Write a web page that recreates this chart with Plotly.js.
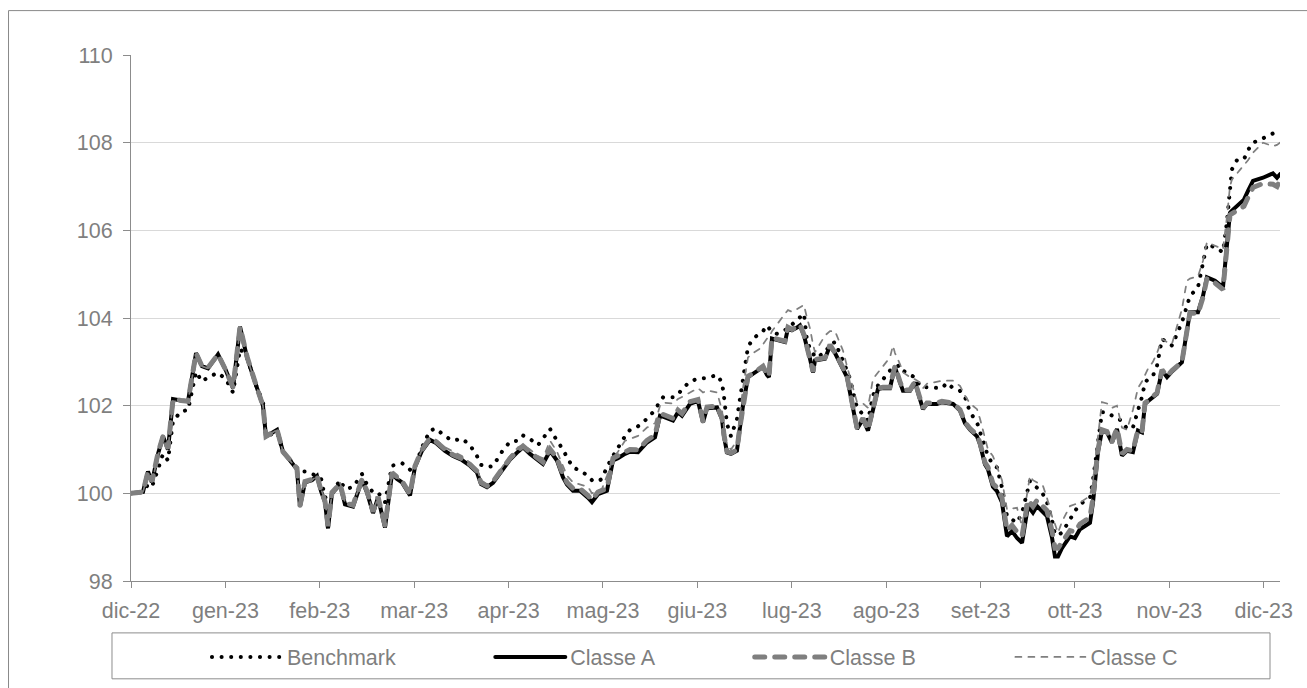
<!DOCTYPE html>
<html>
<head>
<meta charset="utf-8">
<script src="https://cdn.plot.ly/plotly-3.0.1.min.js"></script>
<style>
  html, body { margin: 0; padding: 0; background: #ffffff; }
  #chart { width: 1307px; height: 688px; }
  .js-line, .legendlines path { stroke-linecap: round; }
</style>
</head>
<body>
<div id="chart"></div>
<script>
// Position along the time axis, in months from the start (dic-22 = 0)
const months = [
  0.000, 0.127, 0.180, 0.222, 0.286, 0.339, 0.392, 0.445, 0.530, 0.604,
  0.689, 0.752, 0.816, 0.922, 1.006, 1.081, 1.155, 1.229, 1.335, 1.398,
  1.430, 1.547, 1.610, 1.758, 1.790, 1.843, 1.917, 1.970, 2.013, 2.055,
  2.087, 2.129, 2.214, 2.267, 2.352, 2.447, 2.500, 2.564, 2.617, 2.691,
  2.765, 2.818, 2.871, 2.956, 3.008, 3.083, 3.167, 3.231, 3.326, 3.411,
  3.506, 3.591, 3.665, 3.708, 3.771, 3.835, 3.930, 4.015, 4.100, 4.153,
  4.227, 4.311, 4.364, 4.439, 4.513, 4.576, 4.619, 4.682, 4.756, 4.841,
  4.883, 4.947, 4.989, 5.042, 5.106, 5.159, 5.233, 5.286, 5.371, 5.466,
  5.551, 5.604, 5.636, 5.742, 5.794, 5.837, 5.922, 6.006, 6.059, 6.102,
  6.208, 6.261, 6.282, 6.314, 6.356, 6.419, 6.451, 6.483, 6.536, 6.589,
  6.663, 6.695, 6.737, 6.758, 6.790, 6.843, 6.875, 6.928, 6.960, 7.002,
  7.055, 7.087, 7.129, 7.161, 7.193, 7.225, 7.246, 7.352, 7.405, 7.458,
  7.479, 7.542, 7.585, 7.617, 7.691, 7.754, 7.807, 7.860, 7.913, 7.966,
  8.040, 8.072, 8.093, 8.146, 8.178, 8.252, 8.305, 8.358, 8.390, 8.432,
  8.538, 8.591, 8.644, 8.708, 8.782, 8.835, 8.888, 8.962, 8.994, 9.047,
  9.078, 9.131, 9.174, 9.227, 9.280, 9.333, 9.386, 9.439, 9.502, 9.523,
  9.555, 9.597, 9.661, 9.703, 9.756, 9.788, 9.820, 9.862, 9.947, 10.000,
  10.053, 10.159, 10.191, 10.244, 10.286, 10.339, 10.392, 10.445, 10.498, 10.551,
  10.614, 10.667, 10.710, 10.742, 10.773, 10.826, 10.869, 10.922, 10.975, 11.028,
  11.133, 11.186, 11.218, 11.303, 11.356, 11.398, 11.483, 11.568, 11.610, 11.642,
  11.663, 11.716, 11.790, 11.833, 11.886, 11.992, 12.097, 12.140, 12.172
];

const benchmark = [
  100.00, 100.03, 100.20, 100.15, 100.55, 100.90, 100.75, 101.65, 101.87, 101.90,
  102.77, 102.55, 102.65, 102.75, 102.60, 102.30, 103.30, 103.10, 102.40, 102.10,
  101.30, 101.40, 100.95, 100.60, 100.50, 100.50, 100.45, 100.40, 100.35, 99.90,
  99.95, 100.00, 100.30, 100.10, 100.14, 100.44, 100.20, 100.02, 100.02, 99.80,
  100.63, 100.66, 100.69, 100.54, 100.60, 101.05, 101.43, 101.48, 101.30, 101.20,
  101.25, 101.10, 100.85, 100.65, 100.60, 100.62, 100.95, 101.18, 101.20, 101.32,
  101.24, 101.10, 101.25, 101.47, 101.20, 101.00, 100.82, 100.59, 100.52, 100.40,
  100.30, 100.27, 100.33, 100.60, 100.85, 101.05, 101.30, 101.45, 101.53, 101.70,
  101.90, 102.10, 102.19, 102.19, 102.25, 102.38, 102.55, 102.62, 102.63, 102.63,
  102.70, 102.53, 102.20, 101.58, 101.30, 101.70, 102.15, 102.60, 103.34, 103.53,
  103.64, 103.70, 103.83, 103.78, 103.68, 103.64, 103.68, 103.72, 103.76, 103.85,
  103.95, 104.00, 104.10, 103.49, 103.30, 103.20, 103.10, 103.20, 103.40, 103.45,
  103.35, 103.03, 102.80, 102.61, 101.95, 101.80, 101.65, 102.23, 102.46, 102.60,
  102.80, 102.84, 102.88, 102.92, 102.80, 102.70, 102.65, 102.45, 102.42, 102.42,
  102.40, 102.40, 102.52, 102.40, 102.34, 102.20, 101.85, 101.62, 101.40, 101.05,
  100.85, 100.65, 100.59, 100.13, 99.48, 99.40, 99.33, 99.55, 100.10, 100.28,
  100.20, 100.13, 99.98, 99.80, 99.40, 99.06, 99.05, 99.10, 99.40, 99.60,
  99.75, 99.90, 100.30, 101.20, 101.85, 101.85, 101.78, 101.70, 101.66, 101.47,
  101.50, 101.90, 102.20, 102.53, 102.60, 102.68, 102.91, 103.52, 103.45, 103.37,
  103.90, 104.28, 104.50, 104.70, 105.23, 105.69, 105.61, 105.50, 106.20, 106.90,
  107.39, 107.60, 107.62, 107.83, 108.00, 108.10, 108.21, 108.15, 108.20
];

const classeA = [
  100.00, 100.03, 100.50, 100.25, 100.90, 101.30, 101.00, 102.15, 102.12, 102.10,
  103.20, 102.90, 102.85, 103.17, 102.80, 102.40, 103.80, 103.10, 102.40, 102.00,
  101.30, 101.45, 100.95, 100.55, 99.70, 100.25, 100.30, 100.40, 100.05, 99.80,
  99.20, 100.00, 100.20, 99.75, 99.70, 100.30, 100.02, 99.55, 99.90, 99.22,
  100.45, 100.33, 100.25, 99.95, 100.60, 100.97, 101.22, 101.15, 100.97, 100.85,
  100.76, 100.63, 100.48, 100.21, 100.14, 100.24, 100.52, 100.77, 100.95, 101.05,
  100.90, 100.75, 100.67, 100.97, 100.75, 100.37, 100.20, 100.06, 100.06, 99.90,
  99.80, 99.98, 100.02, 100.06, 100.75, 100.80, 100.90, 100.95, 100.94, 101.16,
  101.28, 101.77, 101.75, 101.66, 101.85, 101.77, 102.04, 102.11, 101.62, 101.94,
  101.96, 101.69, 101.30, 100.93, 100.90, 100.97, 101.50, 102.00, 102.65, 102.72,
  102.82, 102.88, 102.70, 102.65, 103.53, 103.50, 103.49, 103.45, 103.77, 103.72,
  103.78, 103.83, 103.60, 103.35, 103.07, 102.76, 103.03, 103.07, 103.37, 103.20,
  103.11, 102.85, 102.65, 102.30, 101.47, 101.69, 101.43, 101.90, 102.38, 102.40,
  102.40, 102.70, 102.88, 102.53, 102.34, 102.34, 102.53, 102.15, 101.92, 102.04,
  102.04, 102.08, 102.06, 102.04, 101.89, 101.60, 101.45, 101.30, 101.12, 100.66,
  100.55, 100.15, 100.05, 99.79, 99.02, 99.14, 98.98, 98.87, 99.71, 99.65,
  99.56, 99.71, 99.58, 99.48, 99.00, 98.56, 98.56, 98.75, 99.02, 98.98,
  99.18, 99.33, 99.79, 100.95, 101.43, 101.39, 101.16, 101.47, 100.86, 100.97,
  100.94, 101.43, 101.39, 102.04, 102.10, 102.20, 102.27, 102.80, 102.65, 102.78,
  102.99, 103.71, 104.13, 104.13, 104.50, 104.93, 104.85, 104.70, 105.57, 106.40,
  106.45, 106.56, 106.70, 106.90, 107.13, 107.20, 107.30, 107.20, 107.28
];

const classeB = [
  100.00, 100.03, 100.50, 100.27, 100.92, 101.30, 101.02, 102.15, 102.12, 102.10,
  103.20, 102.90, 102.87, 103.17, 102.80, 102.42, 103.80, 103.12, 102.40, 102.00,
  101.30, 101.45, 100.95, 100.57, 99.72, 100.27, 100.32, 100.40, 100.07, 99.82,
  99.25, 100.02, 100.22, 99.78, 99.73, 100.32, 100.05, 99.58, 99.92, 99.26,
  100.47, 100.36, 100.28, 99.98, 100.62, 101.00, 101.25, 101.18, 101.00, 100.88,
  100.79, 100.66, 100.51, 100.24, 100.17, 100.27, 100.55, 100.80, 100.98, 101.08,
  100.94, 100.79, 100.71, 101.01, 100.80, 100.42, 100.25, 100.11, 100.11, 99.95,
  99.85, 100.03, 100.07, 100.11, 100.80, 100.85, 100.95, 101.00, 100.99, 101.21,
  101.33, 101.82, 101.80, 101.71, 101.90, 101.82, 102.09, 102.14, 101.65, 101.97,
  101.99, 101.72, 101.33, 100.95, 100.92, 100.99, 101.52, 102.02, 102.67, 102.74,
  102.84, 102.90, 102.72, 102.67, 103.55, 103.52, 103.51, 103.47, 103.79, 103.74,
  103.80, 103.85, 103.62, 103.37, 103.09, 102.78, 103.05, 103.09, 103.39, 103.22,
  103.13, 102.87, 102.67, 102.32, 101.49, 101.71, 101.45, 101.92, 102.40, 102.42,
  102.42, 102.72, 102.90, 102.55, 102.36, 102.36, 102.55, 102.17, 101.94, 102.06,
  102.06, 102.10, 102.08, 102.06, 101.91, 101.62, 101.48, 101.33, 101.15, 100.70,
  100.60, 100.22, 100.13, 99.90, 99.15, 99.27, 99.12, 99.02, 99.85, 99.78,
  99.70, 99.84, 99.71, 99.61, 99.15, 98.75, 98.75, 98.90, 99.15, 99.12,
  99.30, 99.45, 99.90, 101.00, 101.45, 101.41, 101.18, 101.49, 100.90, 101.00,
  100.97, 101.45, 101.41, 102.06, 102.12, 102.22, 102.29, 102.82, 102.67, 102.80,
  103.00, 103.70, 104.12, 104.10, 104.47, 104.90, 104.80, 104.65, 105.50, 106.35,
  106.38, 106.45, 106.55, 106.75, 106.98, 107.07, 107.05, 107.00, 107.15
];

const classeC = [
  100.00, 100.03, 100.45, 100.25, 100.85, 101.25, 101.00, 102.10, 102.10, 102.10,
  103.15, 102.90, 102.85, 103.15, 102.80, 102.40, 103.75, 103.10, 102.40, 102.00,
  101.30, 101.45, 100.95, 100.55, 99.75, 100.30, 100.30, 100.40, 100.10, 99.85,
  99.30, 100.00, 100.25, 99.80, 99.75, 100.30, 100.05, 99.60, 99.90, 99.30,
  100.45, 100.35, 100.30, 100.00, 100.60, 101.00, 101.28, 101.22, 101.05, 100.95,
  100.85, 100.70, 100.55, 100.30, 100.20, 100.30, 100.60, 100.85, 101.05, 101.10,
  101.00, 100.85, 100.80, 101.20, 100.95, 100.60, 100.40, 100.25, 100.20, 100.15,
  100.00, 100.05, 100.10, 100.40, 100.80, 100.95, 101.20, 101.24, 101.31, 101.50,
  101.60, 102.00, 102.07, 102.05, 102.15, 102.20, 102.30, 102.40, 102.30, 102.35,
  102.30, 101.90, 101.50, 101.10, 101.00, 101.20, 101.80, 102.40, 103.10, 103.20,
  103.30, 103.40, 103.53, 103.55, 103.70, 103.85, 103.95, 104.10, 104.18, 104.14,
  104.20, 104.25, 104.30, 104.00, 103.76, 103.40, 103.22, 103.60, 103.70, 103.70,
  103.60, 103.26, 102.90, 102.65, 102.08, 102.05, 101.95, 102.61, 102.75, 102.90,
  103.10, 103.37, 103.20, 102.95, 102.76, 102.65, 102.60, 102.53, 102.40, 102.50,
  102.55, 102.57, 102.57, 102.57, 102.45, 102.23, 102.05, 101.92, 101.70, 101.24,
  101.00, 100.85, 100.60, 100.30, 99.63, 99.65, 99.67, 99.25, 100.20, 100.40,
  100.30, 100.25, 100.17, 99.90, 99.48, 99.30, 99.10, 99.35, 99.71, 99.75,
  99.79, 99.94, 100.30, 101.30, 102.08, 102.05, 101.95, 102.00, 101.50, 101.45,
  101.90, 102.40, 102.55, 102.70, 102.84, 103.00, 103.20, 103.52, 103.45, 103.41,
  104.20, 104.85, 104.90, 104.95, 105.30, 105.73, 105.65, 105.57, 106.30, 107.00,
  107.16, 107.30, 107.47, 107.60, 107.77, 108.00, 107.92, 107.95, 108.00
];

const tickPositions = [0, 1, 2, 3, 4, 5, 6, 7, 8, 9, 10, 11, 12];
const tickLabels = ['dic-22', 'gen-23', 'feb-23', 'mar-23', 'apr-23', 'mag-23', 'giu-23',
                    'lug-23', 'ago-23', 'set-23', 'ott-23', 'nov-23', 'dic-23'];
const seriesNames = ['Benchmark', 'Classe A', 'Classe B', 'Classe C'];

const FONT = 'Liberation Sans, Arial, Helvetica, sans-serif';
const GREY_TEXT = '#7f7f7f';
const AXIS_GREY = '#8c8c8c';
// trailing no-break spaces give the legend entries the reference's spacing
const PAD = '\u00a0'.repeat(15);

const traces = [
  { x: months, y: benchmark, name: seriesNames[0] + PAD, mode: 'lines',
    line: { color: '#000000', width: 4, dash: '0.1px,9.5px' } },
  { x: months, y: classeA, name: seriesNames[1] + PAD, mode: 'lines',
    line: { color: '#000000', width: 4 } },
  { x: months, y: classeB, name: seriesNames[2] + PAD, mode: 'lines',
    line: { color: '#7f7f7f', width: 5, dash: '10px,10px' } },
  { x: months, y: classeC, name: seriesNames[3], mode: 'lines',
    line: { color: '#7f7f7f', width: 1.75, dash: '6px,7px' } }
];

const layout = {
  width: 1307, height: 688,
  margin: { l: 131, r: 27, t: 55, b: 106, pad: 0 },
  paper_bgcolor: '#ffffff', plot_bgcolor: '#ffffff',
  font: { family: FONT, size: 21.5, color: GREY_TEXT },
  showlegend: true,
  legend: {
    orientation: 'h', xanchor: 'left', yanchor: 'middle',
    x: 0.0661, y: -0.1423,
    itemwidth: 70,
    font: { family: FONT, size: 21.5, color: GREY_TEXT },
    bgcolor: 'rgba(0,0,0,0)', borderwidth: 0,
    itemclick: false, itemdoubleclick: false
  },
  xaxis: {
    range: [0, 12.172], tickmode: 'array', tickvals: tickPositions, ticktext: tickLabels,
    showgrid: false, zeroline: false, showline: true, linecolor: AXIS_GREY, linewidth: 1,
    ticks: 'outside', ticklen: 6, tickcolor: AXIS_GREY, tickwidth: 1,
    ticklabelstandoff: 4,
    tickfont: { family: FONT, size: 21.5, color: GREY_TEXT }, fixedrange: true
  },
  yaxis: {
    range: [98, 110], tickmode: 'linear', tick0: 98, dtick: 2,
    showgrid: true, gridcolor: '#d9d9d9', gridwidth: 1,
    zeroline: false, showline: true, linecolor: AXIS_GREY, linewidth: 1,
    ticks: 'outside', ticklen: 7, tickcolor: AXIS_GREY, tickwidth: 1,
    ticklabelstandoff: 6,
    tickfont: { family: FONT, size: 21.5, color: GREY_TEXT }, fixedrange: true
  },
  shapes: [
    // outer chart frame (left and top edges visible)
    { type: 'line', xref: 'paper', yref: 'paper', x0: -0.1066, x1: -0.1066, y0: 1.0844, y1: -0.25,
      line: { color: '#898989', width: 1 } },
    { type: 'line', xref: 'paper', yref: 'paper', x0: -0.1066, x1: 1.05, y0: 1.0844, y1: 1.0844,
      line: { color: '#898989', width: 1 } },
    // legend box
    { type: 'rect', xref: 'paper', yref: 'paper', x0: -0.01654, x1: 0.99130, y0: -0.09867, y1: -0.18596,
      line: { color: '#8c8c8c', width: 1 }, fillcolor: 'rgba(0,0,0,0)' }
  ]
};

Plotly.newPlot('chart', traces, layout, { displayModeBar: false, staticPlot: true });
</script>
</body>
</html>
